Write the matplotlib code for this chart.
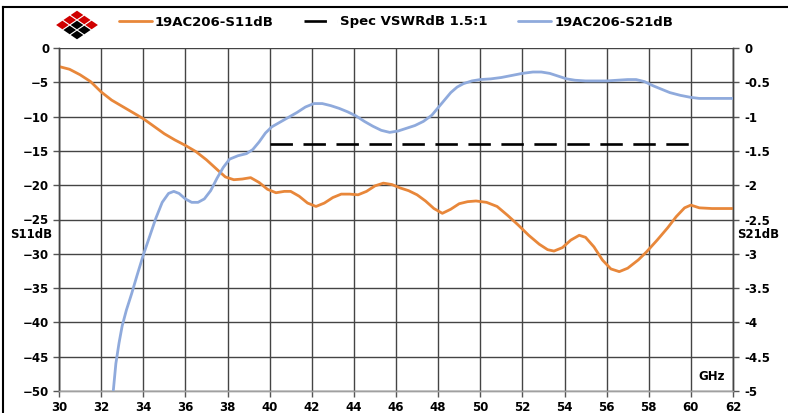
import matplotlib
matplotlib.use("Agg")
import matplotlib.pyplot as plt
from matplotlib.patches import Polygon
from matplotlib.lines import Line2D

plt.rcParams["font.family"] = ["DejaVu Sans"]
plt.rcParams["font.weight"] = "bold"

# S11 (left axis, dB)
s11_ghz = [30.0, 30.5, 31.0, 31.5, 32.0, 32.5, 33.0, 33.5, 34.0, 34.5, 35.0, 35.5,
           36.0, 36.5, 37.0, 37.5, 37.9, 38.3, 38.7, 39.1, 39.5, 39.9, 40.3, 40.7,
           41.0, 41.4, 41.8, 42.2, 42.6, 43.0, 43.4, 43.8, 44.2, 44.6, 45.0, 45.4,
           45.8, 46.2, 46.6, 47.0, 47.4, 47.8, 48.2, 48.6, 49.0, 49.4, 49.8, 50.3,
           50.8, 51.3, 51.8, 52.3, 52.8, 53.2, 53.5, 53.9, 54.3, 54.7, 55.0, 55.4,
           55.8, 56.2, 56.6, 57.0, 57.5, 57.9, 58.4, 58.9, 59.3, 59.7, 60.0, 60.4,
           61.0, 62.0]
s11_db = [-2.7, -3.1, -3.9, -4.9, -6.4, -7.6, -8.5, -9.4, -10.3, -11.4, -12.5, -13.4,
          -14.2, -15.1, -16.3, -17.7, -18.8, -19.2, -19.1, -18.9, -19.6, -20.6, -21.1, -20.9,
          -20.9, -21.6, -22.6, -23.1, -22.6, -21.8, -21.3, -21.3, -21.4, -20.9, -20.1, -19.7,
          -19.9, -20.4, -20.8, -21.4, -22.3, -23.4, -24.1, -23.5, -22.7, -22.4, -22.3, -22.5,
          -23.1, -24.4, -25.8, -27.3, -28.6, -29.4, -29.6, -29.1, -28.0, -27.3, -27.6, -29.0,
          -30.9, -32.2, -32.6, -32.1, -30.9, -29.7, -28.0, -26.2, -24.6, -23.3, -22.9, -23.3,
          -23.4, -23.4]

# S21 (right axis, dB)
s21_ghz = [32.58, 32.7, 32.85, 33.0, 33.2, 33.45, 33.7, 34.0, 34.3, 34.6, 34.9, 35.2,
           35.45, 35.7, 36.0, 36.3, 36.6, 36.9, 37.2, 37.5, 37.8, 38.1, 38.5, 38.9,
           39.2, 39.5, 39.8, 40.1, 40.5, 40.9, 41.3, 41.7, 42.1, 42.5, 42.9, 43.3,
           43.7, 44.1, 44.5, 44.9, 45.3, 45.7, 46.1, 46.5, 46.9, 47.3, 47.7, 48.0,
           48.3, 48.6, 48.9, 49.2, 49.6, 50.0, 50.5, 51.0, 51.5, 52.0, 52.5, 52.9,
           53.3, 53.7, 54.1, 54.5, 55.0, 55.5, 56.0, 56.5, 57.0, 57.4, 57.8, 58.2,
           58.6, 59.0, 59.5, 60.0, 60.4, 62.0]
s21_db = [-4.99, -4.6, -4.3, -4.05, -3.82, -3.58, -3.32, -3.02, -2.75, -2.48, -2.25, -2.12,
          -2.09, -2.12, -2.2, -2.25, -2.25, -2.2, -2.08, -1.90, -1.74, -1.62, -1.57, -1.54,
          -1.48, -1.37, -1.24, -1.15, -1.08, -1.01, -0.94, -0.86, -0.81, -0.81, -0.84, -0.88,
          -0.93, -0.99, -1.07, -1.14, -1.20, -1.23, -1.21, -1.17, -1.13, -1.07, -0.98, -0.87,
          -0.76, -0.65, -0.57, -0.52, -0.48, -0.46, -0.45, -0.43, -0.40, -0.37, -0.35, -0.35,
          -0.37, -0.41, -0.45, -0.47, -0.48, -0.48, -0.48, -0.47, -0.46, -0.46, -0.49, -0.55,
          -0.60, -0.65, -0.69, -0.72, -0.735, -0.735]

# VSWR 1.5:1 spec line
spec_ghz = [40, 60]
spec_db = [-13.98, -13.98]

x_ticks = list(range(30, 63, 2))
left_ticks = list(range(-50, 1, 5))
right_ticks = [-5, -4.5, -4, -3.5, -3, -2.5, -2, -1.5, -1, -0.5, 0]
right_labels = ["-5", "-4.5", "-4", "-3.5", "-3", "-2.5", "-2", "-1.5", "-1", "-0.5", "0"]

orange = "#E8873A"
blue = "#8FAADC"
grid_c = "#444444"
fs = 8.5

fig = plt.figure(figsize=(7.88, 4.13), dpi=100)
ax = fig.add_axes([59 / 788, 1 - 391 / 413, (733 - 59) / 788, (391 - 48) / 413])
ax2 = ax.twinx()

line_kw = dict(lw=2.0, solid_joinstyle="round", solid_capstyle="round", zorder=3)
ax.plot(s11_ghz, s11_db, color=orange, label="19AC206-S11dB", **line_kw)
ax.plot(spec_ghz, spec_db, color="black", lw=1.9, dashes=(8.5, 4),
        label="Spec VSWRdB 1.5:1", zorder=3)
ax2.plot(s21_ghz, s21_db, color=blue, label="19AC206-S21dB", **line_kw)

ax.set_xlim(30, 62)
ax.set_ylim(-50, 0)
ax2.set_ylim(-5, 0)
ax.set_xticks(x_ticks)
ax.set_yticks(left_ticks)
ax2.set_yticks(right_ticks)
ax2.set_yticklabels(right_labels)

ax.grid(True, color=grid_c, lw=1.0)
ax.set_axisbelow(True)
for a in (ax, ax2):
    a.tick_params(length=4, width=1, color="#555555", pad=3, labelsize=fs)
    for s in a.spines.values():
        s.set_color(grid_c)
        s.set_linewidth(1.0)
    a.spines["bottom"].set_color("#a0a0a0")
    a.spines["top"].set_visible(False)
ax2.tick_params(axis="y", pad=4)

fig.text(31 / 788, 1 - 234 / 413, "S11dB", ha="center", va="center", fontsize=fs)
fig.text(737 / 788, 1 - 234 / 413, "S21dB", ha="left", va="center", fontsize=fs)
fig.text(712 / 788, 1 - 377 / 413, "GHz", ha="center", va="center", fontsize=fs)

h1, l1 = ax.get_legend_handles_labels()
h2, l2 = ax2.get_legend_handles_labels()
fig.legend(h1 + h2, l1 + l2, loc="center", bbox_to_anchor=(396 / 788, 1 - 22 / 413),
           ncol=3, frameon=False, handlelength=2.5, columnspacing=2.3,
           handletextpad=0.25, fontsize=9.5)

# logo: 3x3 grid of diamonds
lax = fig.add_axes([55 / 788, 1 - 40 / 413, 44 / 788, 30 / 413])
lax.set_xlim(55, 99)
lax.set_ylim(40, 10)
lax.axis("off")
for i in range(3):
    for j in range(3):
        cx = 77 + (j - i) * 7.3
        cy = 25 + (i + j - 2) * 5
        c = "#D00000" if (i == 0 or j == 0) else "black"
        lax.add_patch(Polygon([(cx - 6.3, cy), (cx, cy - 4.3), (cx + 6.3, cy), (cx, cy + 4.3)],
                              closed=True, facecolor=c, edgecolor="none"))

# outer border of the picture
fig.add_artist(Line2D([3 / 788, 1], [1 - 7 / 413, 1 - 7 / 413], color="black", lw=1.5))
fig.add_artist(Line2D([3 / 788, 3 / 788], [0, 1 - 7 / 413], color="black", lw=1.5))

fig.savefig("out.png", dpi=100)
